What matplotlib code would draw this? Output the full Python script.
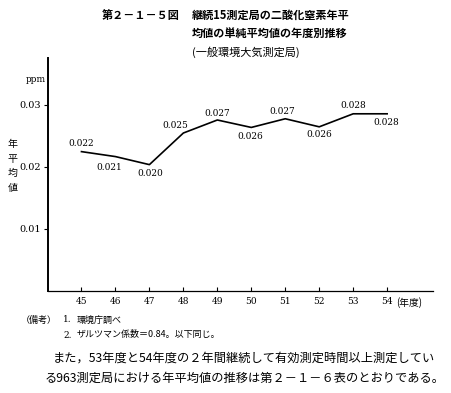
import matplotlib.pyplot as plt

plt.rcParams['font.family'] = ['Noto Sans CJK JP', 'DejaVu Sans']

# 年度 (昭和)
years = [45, 46, 47, 48, 49, 50, 51, 52, 53, 54]
# 年平均値 (ppm) -- 線の位置は図から読み取り
values = [0.0224, 0.0216, 0.0203, 0.0254, 0.0275, 0.0263, 0.0277, 0.0264, 0.0285, 0.0285]
value_labels = ["0.022", "0.021", "0.020", "0.025", "0.027",
                "0.026", "0.027", "0.026", "0.028", "0.028"]
yticks = [0.01, 0.02, 0.03]
ytick_labels = ["0.01", "0.02", "0.03"]

# ラベルの位置 (pixel offset)
label_offsets = [(0, 8.5), (-6, -11), (0.5, -8.5), (-8, 7.5), (0, 7),
                 (-1.5, -9.5), (-3, 7.5), (0.5, -7.5), (0, 8.5), (-1, -8.5)]

W, H = 451, 393
fig = plt.figure(figsize=(W / 100, H / 100), dpi=100)
ax = fig.add_axes([47.5 / W, 1 - 290.5 / H, 385.5 / W, 232.5 / H])

ax.plot(years, values, color="black", lw=1.2)
for x, y, lab, (dx, dy) in zip(years, values, value_labels, label_offsets):
    ax.annotate(lab, (x, y), xytext=(dx, dy), textcoords="offset pixels",
                ha="center", va="center", fontsize=6.5, family="DejaVu Serif")

ax.set_xlim(44.0, 55.35)
ax.set_ylim(0, 0.0375)
ax.set_xticks(years)
ax.set_xticklabels([str(y) for y in years], family="DejaVu Serif", fontsize=6.5)
ax.set_yticks(yticks)
ax.set_yticklabels(ytick_labels, family="DejaVu Serif", fontsize=7)
ax.tick_params(axis="x", direction="in", length=3, width=0.8, pad=5)
ax.tick_params(axis="y", direction="out", length=3, width=0.8, pad=2)
for s in ["top", "right"]:
    ax.spines[s].set_visible(False)
ax.spines["left"].set_linewidth(1.4)
ax.spines["bottom"].set_linewidth(0.9)

ax.annotate("(年度)", (54, 0), xycoords=("data", "axes fraction"),
            xytext=(9, -12), textcoords="offset pixels",
            ha="left", va="center", fontsize=7)


def ftext(x, y, s, **kw):
    fig.text(x / W, 1 - y / H, s, va="center", **kw)


ftext(102, 15, "第２－１－５図", fontsize=8, fontweight="bold")
ftext(192, 15, "継続15測定局の二酸化窒素年平", fontsize=8, fontweight="bold")
ftext(192, 33, "均値の単純平均値の年度別推移", fontsize=8, fontweight="bold")
ftext(192, 52, "(一般環境大気測定局)", fontsize=8)

ftext(26, 79, "ppm", fontsize=6.5, family="DejaVu Serif")
ftext(13, 166, "年\n平\n均\n値", fontsize=7.2, ha="center", linespacing=1.6)

ftext(21, 320, "（備考）", fontsize=6.5)
ftext(63, 320, "1.", fontsize=6.5, family="DejaVu Serif")
ftext(77, 320, "環境庁調べ", fontsize=6.5)
ftext(63, 335, "2.", fontsize=6.5, family="DejaVu Serif")
ftext(77, 335, "ザルツマン係数＝0.84。以下同じ。", fontsize=6.5)

ftext(53, 358, "また，53年度と54年度の２年間継続して有効測定時間以上測定してい", fontsize=8.8)
ftext(45, 378, "る963測定局における年平均値の推移は第２－１－６表のとおりである。", fontsize=8.8)

fig.savefig("out.png", dpi=100)
